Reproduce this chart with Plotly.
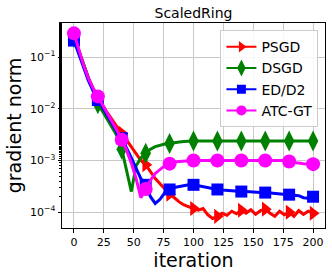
import numpy as np
import plotly.graph_objects as go

# iteration grid (every 4 iterations)
iterations = list(range(0, 201, 4))

# log10 of gradient norm
psgd_log10 = [-0.60, -0.88, -1.15, -1.40, -1.60, -1.78, -1.93, -2.08, -2.22, -2.35,
              -2.47, -2.60, -2.75, -2.88, -3.00, -3.08, -3.22, -3.35, -3.45, -3.56,
              -3.65, -3.72, -3.80, -3.86, -3.90, -3.93, -3.96, -3.93, -4.05, -4.12,
              -4.08, -4.02, -4.06, -3.98, -4.03, -3.96, -4.02, -3.95, -4.04, -3.97,
              -3.94, -4.02, -4.08, -3.98, -4.05, -4.00, -4.08, -3.97, -4.04, -3.98,
              -4.02]
dsgd_log10 = [-0.62, -0.88, -1.12, -1.38, -1.62, -1.90, -2.05, -2.20, -2.35, -2.52,
              -2.78, -3.20, -3.60, -3.10, -2.95, -2.86, -2.78, -2.73, -2.70, -2.68,
              -2.67, -2.65, -2.64, -2.63, -2.62, -2.62, -2.62, -2.62, -2.62, -2.62,
              -2.62, -2.62, -2.62, -2.62, -2.62, -2.62, -2.62, -2.62, -2.62, -2.62,
              -2.62, -2.62, -2.62, -2.62, -2.62, -2.62, -2.62, -2.62, -2.62, -2.62,
              -2.62]
ed_log10 = [-0.68, -0.95, -1.20, -1.45, -1.65, -1.83, -1.98, -2.13, -2.30, -2.45,
            -2.57, -2.75, -2.95, -3.15, -3.35, -3.47, -3.70, -3.83, -3.75, -3.62,
            -3.56, -3.52, -3.50, -3.48, -3.47, -3.47, -3.49, -3.51, -3.53, -3.55,
            -3.56, -3.57, -3.58, -3.59, -3.59, -3.60, -3.60, -3.61, -3.61, -3.62,
            -3.62, -3.63, -3.63, -3.64, -3.65, -3.66, -3.67, -3.68, -3.72, -3.73,
            -3.70]
atc_log10 = [-0.54, -0.85, -1.15, -1.40, -1.60, -1.76, -1.92, -2.08, -2.25, -2.42,
             -2.60, -2.80, -3.05, -3.35, -3.72, -3.55, -3.38, -3.25, -3.17, -3.10,
             -3.06, -3.03, -3.02, -3.01, -3.00, -3.00, -3.00, -3.00, -3.00, -3.00,
             -3.00, -3.00, -3.00, -3.00, -3.00, -3.00, -3.00, -3.00, -3.00, -3.00,
             -3.00, -3.00, -3.00, -3.00, -3.00, -3.02, -3.04, -3.05, -3.06, -3.06,
             -3.07]

series_names = ["PSGD", "DSGD", "ED/D2", "ATC-GT"]
series_data = [psgd_log10, dsgd_log10, ed_log10, atc_log10]
colors = ["#ff0000", "#008000", "#0000ff", "#ff00ff"]
symbols = ["triangle-right", "diamond-tall", "square", "circle"]
msizes = [13, 15, 12, 14]
legend_msizes = [10, 12, 9, 10]
mark_every = 20

x_ticks = [0, 25, 50, 75, 100, 125, 150, 175, 200]
y_ticks = [1e-4, 1e-3, 1e-2, 1e-1]
y_ticktext = ["10<sup>\u22124</sup>", "10<sup>\u22123</sup>", "10<sup>\u22122</sup>", "10<sup>\u22121</sup>"]

fig = go.Figure()
it = np.array(iterations)
for name, d, c, s, ms in zip(series_names, series_data, colors, symbols, msizes):
    y = 10 ** np.array(d)
    fig.add_trace(go.Scatter(x=it, y=y, mode="lines", line=dict(color=c, width=3),
                             showlegend=False, hoverinfo="skip"))
    sel = it % mark_every == 0
    fig.add_trace(go.Scatter(x=it[sel], y=y[sel], mode="markers",
                             marker=dict(color=c, symbol=s, size=ms, line=dict(width=0)),
                             showlegend=False))
for name, c, s, ms in zip(series_names, colors, symbols, legend_msizes):
    fig.add_trace(go.Scatter(x=[None], y=[None], mode="lines+markers", name=name,
                             line=dict(color=c, width=2),
                             marker=dict(color=c, symbol=s, size=ms, line=dict(width=0))))

fig.update_layout(
    width=332, height=275,
    margin=dict(l=62, r=7, t=23, b=47),
    paper_bgcolor="white", plot_bgcolor="white",
    font=dict(family="DejaVu Sans", color="black", size=11),
    title=dict(text="ScaledRing", x=(62 + 325) / 2 / 332, xanchor="center",
               y=1 - 13 / 275, yanchor="middle", font=dict(size=14)),
    legend=dict(x=0.975, xanchor="right", y=0.965, yanchor="top",
                bgcolor="rgba(255,255,255,0.85)", bordercolor="#cccccc", borderwidth=1,
                font=dict(size=14), tracegroupgap=0, itemwidth=30),
)
fig.update_xaxes(range=[-10, 210], tickvals=x_ticks, ticks="outside", ticklen=3.5,
                 tickcolor="black", showline=True, linecolor="black", linewidth=1, mirror=True,
                 showgrid=True, gridcolor="#c8c8c8", gridwidth=1, zeroline=False,
                 title=dict(text="iteration", font=dict(size=19), standoff=2))
fig.update_yaxes(type="log", range=[-4.305, -0.34], tickvals=y_ticks, ticktext=y_ticktext,
                 ticks="outside", ticklen=3.5, tickcolor="black",
                 showline=True, linecolor="black", linewidth=1, mirror=True,
                 showgrid=True, gridcolor="#c8c8c8", gridwidth=1, zeroline=False,
                 minor=dict(ticks="outside", ticklen=2, tickcolor="black", showgrid=False),
                 title=dict(text="gradient norm", font=dict(size=19), standoff=3))

fig.write_html("out.html", post_script="document.body.style.margin='0px';",
               config={"displayModeBar": False})
